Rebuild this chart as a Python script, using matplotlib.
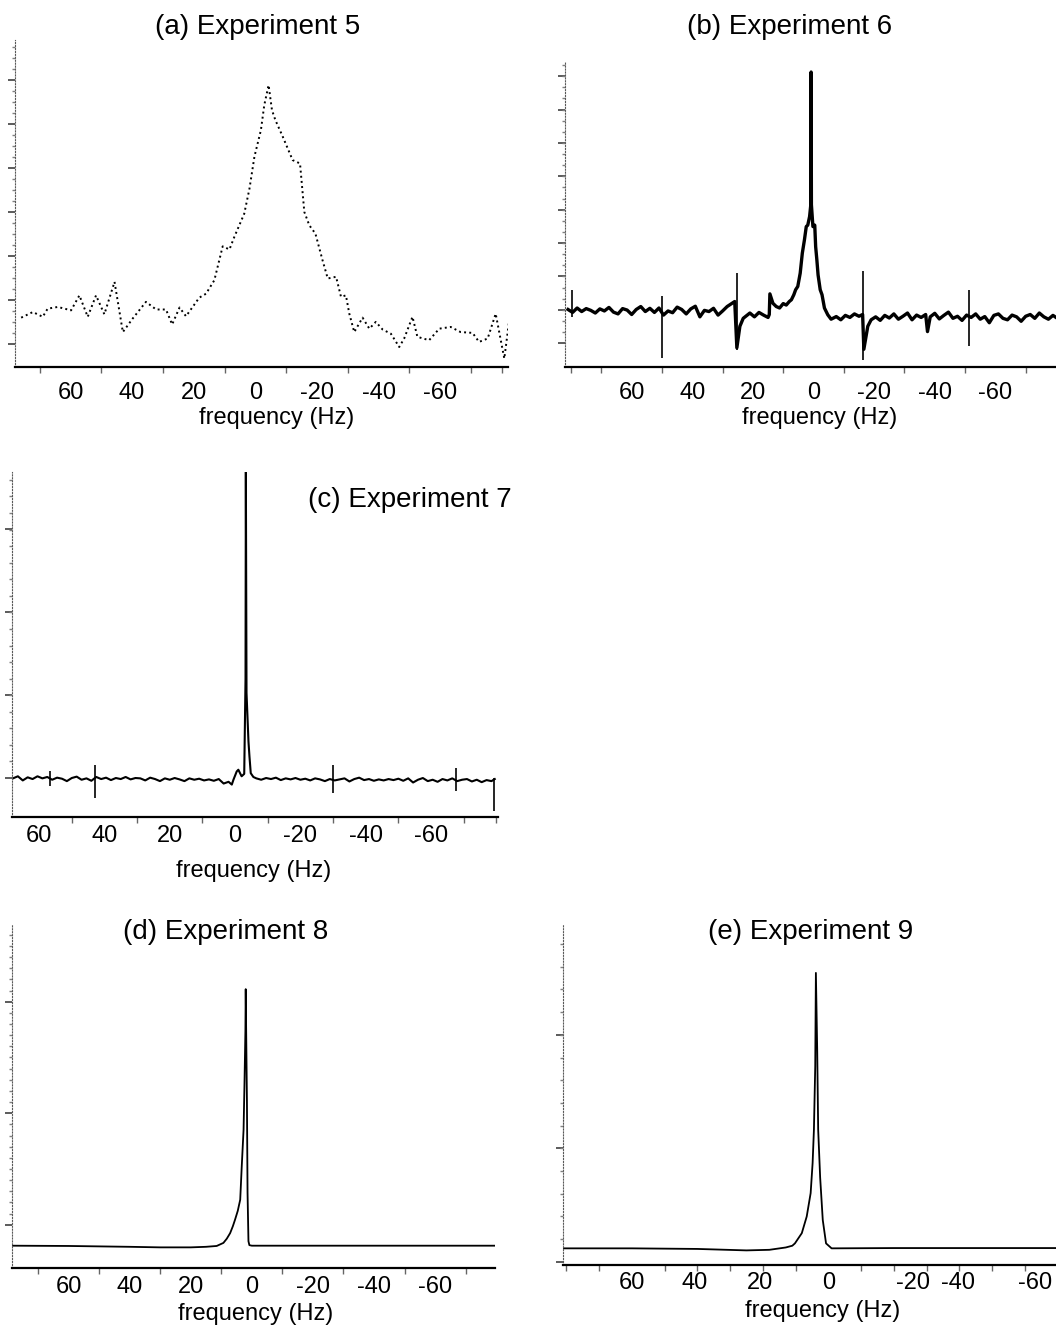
import numpy as np
import matplotlib
matplotlib.use('Agg')
import matplotlib.pyplot as plt

plt.rcParams['font.family'] = ['Liberation Sans', 'DejaVu Sans']

W, H = 1056, 1328

# values: frequency (Hz) and intensity (peak = 1)
a_freq = [76, 72.2, 69, 67.4, 64.1, 59.8, 57.1, 54.4, 51.7, 49, 45.7, 43, 39.8, 35.5, 32.2, 29,
          27, 24.6, 22.5, 18.2, 16, 13.3, 10.6, 8.4, 6.8, 3.6, 1.9, 0.3, -1.8, -2.9, -4.3, -5.4,
          -6.5, -8.9, -12.1, -14.5, -15.9, -17.5, -19.5, -21.8, -23.5, -26.2, -27.8, -29.4, -30.5,
          -32.1, -34.8, -37, -39.1, -41.3, -44, -46.7, -48.3, -51, -52.6, -56.4, -59.7, -63.4,
          -66.6, -70.5, -72.6, -75.4, -78, -80.8, -82.4]
a_int = [0.175, 0.195, 0.178, 0.207, 0.213, 0.201, 0.254, 0.178, 0.254, 0.187, 0.302, 0.124,
         0.172, 0.231, 0.204, 0.204, 0.151, 0.211, 0.180, 0.246, 0.260, 0.308, 0.428, 0.417,
         0.462, 0.544, 0.633, 0.746, 0.840, 0.929, 1.0, 0.911, 0.876, 0.817, 0.734, 0.722,
         0.550, 0.503, 0.473, 0.379, 0.314, 0.320, 0.249, 0.254, 0.189, 0.124, 0.175, 0.136,
         0.160, 0.133, 0.118, 0.071, 0.101, 0.178, 0.107, 0.095, 0.136, 0.142, 0.124, 0.121,
         0.089, 0.101, 0.189, 0.030, 0.166]

b_freq = [81.0, 79.5, 78.0, 76.5, 75.0, 73.5, 72.0, 70.5, 69.0, 67.5, 66.0, 64.5, 63.0, 61.5,
          60.0, 58.5, 57.0, 55.5, 54.0, 52.5, 51.0, 49.5, 48.0, 46.5, 45.0, 43.5, 42.0, 40.5,
          39.0, 37.5, 36.0, 34.5, 33.0, 31.5, 30.0, 28.5, 27.0, 26.0, 25.3, 24.3, 23.2, 22.0,
          21.0, 19.5, 18.0, 16.5, 15.0, 14.6, 14.4, 13.4, 12.3, 11.2, 10.0, 9.0, 8.0, 7.3, 6.5,
          5.9, 5.2, 4.4, 3.7, 3.0, 2.4, 1.9, 1.3, 0.9, 0.8, 0.7, 0.2, -0.4, -0.7, -1.1, -1.5,
          -2.2, -2.8, -3.6, -4.7, -5.8, -7.5, -9.0, -10.5, -12.0, -13.5, -15.0, -16.2, -16.6,
          -17.9, -19.0, -20.5, -22.0, -23.5, -25.0, -26.5, -28.0, -29.5, -31.0, -32.5, -34.0,
          -35.5, -37.0, -37.6, -38.5, -40.0, -41.5, -43.0, -44.5, -46.0, -47.5, -49.0, -50.5,
          -52.0, -53.5, -55.0, -56.5, -58.0, -59.5, -61.0, -62.5, -64.0, -65.5, -67.0, -68.5,
          -70.0, -71.5, -73.0, -74.5, -76.0, -77.5, -79.0, -80.0]
b_int = [0.195, 0.185, 0.200, 0.188, 0.198, 0.192, 0.183, 0.197, 0.190, 0.202, 0.186, 0.180,
         0.198, 0.193, 0.178, 0.195, 0.205, 0.188, 0.199, 0.185, 0.200, 0.176, 0.190, 0.184,
         0.203, 0.195, 0.180, 0.197, 0.206, 0.170, 0.192, 0.188, 0.199, 0.176, 0.190, 0.205,
         0.215, 0.222, 0.065, 0.138, 0.165, 0.175, 0.183, 0.170, 0.185, 0.176, 0.168, 0.178,
         0.248, 0.216, 0.205, 0.200, 0.215, 0.210, 0.222, 0.228, 0.245, 0.262, 0.273, 0.318,
         0.386, 0.431, 0.476, 0.481, 0.510, 0.550, 1.0, 0.550, 0.476, 0.481, 0.408, 0.363,
         0.312, 0.262, 0.245, 0.200, 0.177, 0.162, 0.171, 0.160, 0.175, 0.168, 0.180, 0.172,
         0.178, 0.060, 0.138, 0.160, 0.170, 0.158, 0.175, 0.166, 0.180, 0.162, 0.172, 0.183,
         0.160, 0.176, 0.168, 0.178, 0.120, 0.170, 0.182, 0.163, 0.175, 0.186, 0.165, 0.172,
         0.158, 0.176, 0.168, 0.180, 0.162, 0.171, 0.150, 0.175, 0.180, 0.165, 0.160, 0.176,
         0.170, 0.155, 0.172, 0.178, 0.165, 0.183, 0.170, 0.162, 0.175, 0.168]
b_spike_freq = [79.7, 50.0, 25.4, -16.4, -51.3]
b_spike_top = [0.26, 0.24, 0.318, 0.324, 0.26]
b_spike_bottom = [0.17, 0.03, 0.059, 0.025, 0.07]

c_freq = [68.0, 66.5, 65.0, 63.5, 62.0, 60.5, 59.0, 57.5, 56.0, 54.5, 53.0, 51.5, 50.0, 48.5,
          47.0, 45.5, 44.0, 42.5, 41.0, 39.5, 38.0, 36.5, 35.0, 33.5, 32.0, 30.5, 29.0, 27.5,
          26.0, 24.5, 23.0, 21.5, 20.0, 18.5, 17.0, 15.5, 14.0, 12.5, 11.0, 9.5, 8.0, 6.5, 5.0,
          3.5, 2.0, 1.0, 0.5, -0.5, -1.0, -2.0, -2.8, -3.2, -3.3, -3.5, -4.1, -4.4, -4.8, -5.6,
          -6.5, -8.0, -9.5, -11.0, -12.5, -14.0, -15.5, -17.0, -18.5, -20.0, -21.5, -23.0, -24.5,
          -26.0, -27.5, -29.0, -30.5, -32.0, -33.5, -35.0, -36.5, -38.0, -39.5, -41.0, -42.5,
          -44.0, -45.5, -47.0, -48.5, -50.0, -51.5, -53.0, -54.5, -56.0, -57.5, -59.0, -60.5,
          -62.0, -63.5, -65.0, -66.5, -68.0, -69.5, -71.0, -72.5, -74.0, -75.5, -77.0, -78.5,
          -79.5]
c_int = [0.112, 0.118, 0.106, 0.115, 0.110, 0.118, 0.112, 0.116, 0.108, 0.114, 0.111, 0.104,
         0.113, 0.117, 0.108, 0.112, 0.105, 0.116, 0.110, 0.114, 0.107, 0.113, 0.110, 0.116,
         0.109, 0.113, 0.112, 0.106, 0.114, 0.110, 0.104, 0.112, 0.108, 0.113, 0.109, 0.104,
         0.112, 0.108, 0.111, 0.106, 0.109, 0.105, 0.110, 0.097, 0.102, 0.094, 0.108, 0.132,
         0.137, 0.118, 0.125, 0.400, 1.0, 0.360, 0.219, 0.176, 0.127, 0.116, 0.112, 0.108,
         0.113, 0.110, 0.114, 0.107, 0.112, 0.109, 0.113, 0.108, 0.111, 0.106, 0.112, 0.109,
         0.104, 0.110, 0.106, 0.109, 0.112, 0.103, 0.110, 0.114, 0.107, 0.110, 0.105, 0.109,
         0.106, 0.110, 0.107, 0.111, 0.105, 0.112, 0.100, 0.108, 0.113, 0.104, 0.108, 0.102,
         0.110, 0.106, 0.112, 0.104, 0.108, 0.110, 0.103, 0.108, 0.101, 0.107, 0.104, 0.110]
c_spike_freq = [56.8, 43.0, -30.1, -67.6, -79.3]
c_spike_top = [0.132, 0.151, 0.151, 0.142, 0.113]
c_spike_bottom = [0.089, 0.055, 0.069, 0.074, 0.016]

d_freq = [78.5, 60, 40, 30, 20, 15, 11.5, 9.3, 8.2, 7.1, 6.2, 5.5, 4.6, 3.8, 3.3, 2.7, 2.4,
          2.1, 2.0, 1.8, 1.6, 1.4, 1.1, 0.8, 0, -20, -40, -60, -79.6]
d_int = [0.080, 0.079, 0.076, 0.074, 0.074, 0.076, 0.079, 0.090, 0.105, 0.125, 0.150, 0.173,
         0.205, 0.245, 0.364, 0.496, 0.663, 0.850, 1.0, 0.800, 0.600, 0.270, 0.096, 0.082,
         0.080, 0.080, 0.080, 0.080, 0.080]

e_freq = [81, 60, 40, 25, 18, 13, 11, 10.2, 8.1, 6.6, 5.4, 4.8, 4.4, 4.0, 3.8, 3.4, 3.1, 2.5,
          1.7, 0.7, -1.0, -20, -40, -70]
e_int = [0.057, 0.057, 0.055, 0.050, 0.052, 0.060, 0.066, 0.074, 0.109, 0.166, 0.246, 0.349,
         0.463, 0.680, 1.0, 0.737, 0.463, 0.300, 0.154, 0.074, 0.057, 0.058, 0.058, 0.058]

tick_text = ['60', '40', '20', '0', '-20', '-40', '-60']
tick_pos = [60, 40, 20, 0, -20, -40, -60]
e_tick_pos = [60, 40.7, 20.8, 0, -25.9, -39.7, -63.1]


def rect(l, t, r, b):
	return [l / W, 1 - b / H, (r - l) / W, (b - t) / H]


fig = plt.figure(figsize=(W / 100, H / 100), dpi=100)

panels = [
	# title, box (l, t, r, b px), xlim, ylim, data, style, title xy, xlabel xy, pad, y ticks
	dict(title='(a) Experiment 5', box=(15, 40, 508, 367), xlim=(78, -82), ylim=(0, 1.16),
		 x=a_freq, y=a_int, ls=':', lw=1.4, ticks=tick_pos, txy=(258, 27), lxy=(277, 418),
		 pad=11, ymaj=np.arange(0.083, 1.05, 0.156), ystep=0.039),
	dict(title='(b) Experiment 6', box=(565, 62, 1056, 367), xlim=(82, -80), ylim=(0, 1.034),
		 x=b_freq, y=b_int, ls='-', lw=2.4, ticks=tick_pos, txy=(790, 27), lxy=(820, 418),
		 pad=11, ymaj=np.arange(0.081, 1.0, 0.113), ystep=0.0377,
		 spikes=(b_spike_freq, b_spike_bottom, b_spike_top)),
	dict(title='(c) Experiment 7', box=(12, 472, 498, 817), xlim=(68.3, -80.5), ylim=(0, 1.0),
		 x=c_freq, y=c_int, ls='-', lw=1.5, ticks=tick_pos, txy=(410, 500), lxy=(254, 871),
		 pad=6, ymaj=np.arange(0.113, 1.0, 0.241), ystep=0.048,
		 spikes=(c_spike_freq, c_spike_bottom, c_spike_top)),
	dict(title='(d) Experiment 8', box=(12, 925, 495, 1268), xlim=(78.5, -79.6), ylim=(0, 1.23),
		 x=d_freq, y=d_int, ls='-', lw=1.3, ticks=tick_pos, txy=(226, 932), lxy=(256, 1314),
		 pad=6, ymaj=np.arange(0.155, 1.2, 0.40), ystep=0.04),
	dict(title='(e) Experiment 9', box=(563, 925, 1056, 1265), xlim=(81, -69.5), ylim=(0, 1.164),
		 x=e_freq, y=e_int, ls='-', lw=1.3, ticks=e_tick_pos, txy=(811, 932), lxy=(823, 1311),
		 pad=5, ymaj=np.arange(0.011, 1.15, 0.389), ystep=0.0777),
]

for p in panels:
	ax = fig.add_axes(rect(*p['box']))
	ax.plot(p['x'], p['y'], color='black', ls=p['ls'], lw=p['lw'])
	if 'spikes' in p:
		sf, sb, st = p['spikes']
		ax.vlines(sf, sb, st, color='black', lw=1.2)
	ax.set_xlim(*p['xlim'])
	ax.set_ylim(*p['ylim'])

	for side in ['top', 'right']:
		ax.spines[side].set_visible(False)
	ax.spines['bottom'].set_linewidth(1.6)
	ax.spines['left'].set_linestyle(':')
	ax.spines['left'].set_color('0.35')

	ax.set_xticks(p['ticks'])
	ax.set_xticklabels(tick_text, fontsize=17)
	lo, hi = min(p['xlim']), max(p['xlim'])
	ax.set_xticks([v for v in range(-80, 81, 10) if lo < v < hi], minor=True)
	ax.tick_params(axis='x', which='major', length=0, pad=p['pad'])
	ax.tick_params(axis='x', which='minor', direction='out', length=4, width=1, color='0.4')

	ax.set_yticks(p['ymaj'])
	ax.set_yticks(np.arange(p['ymaj'][0], p['ylim'][1], p['ystep']), minor=True)
	ax.set_yticklabels([])
	ax.tick_params(axis='y', which='major', direction='out', length=5, width=1.2, color='0.25')
	ax.tick_params(axis='y', which='minor', direction='out', length=2, width=1, color='0.5')

	fig.text(p['txy'][0] / W, 1 - p['txy'][1] / H, p['title'], fontsize=20,
			 ha='center', va='center')
	fig.text(p['lxy'][0] / W, 1 - p['lxy'][1] / H, 'frequency (Hz)', fontsize=17,
			 ha='center', va='center')

fig.savefig('out.png', dpi=100)
